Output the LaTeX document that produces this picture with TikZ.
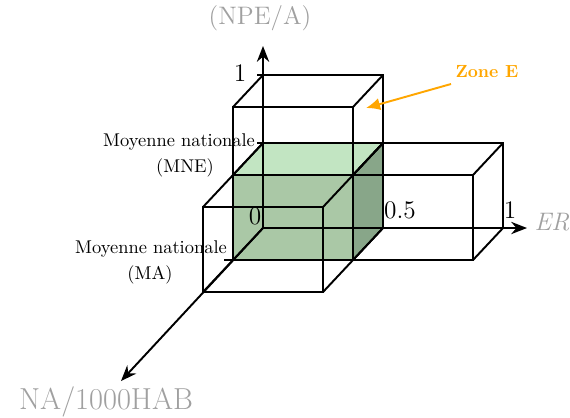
\documentclass[tikz,border=0pt]{standalone}
\usepackage{tikz}
\usetikzlibrary{positioning}
\usetikzlibrary{arrows.meta}

\definecolor{vertclair}{RGB}{194,229,194}
\definecolor{vertmoyen}{RGB}{170,200,166}
\definecolor{vertfonce}{RGB}{136,166,137}
\definecolor{orangezone}{RGB}{255,166,0}
\definecolor{grisaxe}{RGB}{160,160,160}

\begin{document}
\begin{tikzpicture}[x=0.02cm, y=-0.02cm,
    arete/.style={line width=1.1pt},
    axe/.style={line width=1.1pt, -{Stealth[length=9pt, width=7pt]}},
    nomaxe/.style={text=grisaxe, font=\Large},
    graduation/.style={font=\Large, inner sep=1pt},
    moyenne/.style={align=center, font=\fontsize{10.5}{12}\selectfont, inner sep=1pt}]
    \useasboundingbox (0,0) rectangle (570,417);

    % cube vert (zone E)
    \fill[vertclair] (263,143) -- (383,143) -- (353,175) -- (233,175) -- cycle;
    \fill[vertmoyen] (233,175) rectangle (353,260);
    \fill[vertfonce] (383,143) -- (383,228) -- (353,260) -- (353,175) -- cycle;

    % les quatre paves
    \foreach \x/\t/\b in {263/75/143, 263/143/228, 383/143/228, 233/175/260} {
        \draw[arete] (\x,\t) rectangle ++(120,\b-\t);
        \draw[arete] (\x-30,\t+32) rectangle (\x+90,\b+32);
        \draw[arete] (\x,\t) -- ++(-30,32);
        \draw[arete] (\x+120,\t) -- ++(-30,32);
        \draw[arete] (\x,\b) -- ++(-30,32);
        \draw[arete] (\x+120,\b) -- ++(-30,32);
    }

    % axes
    \coordinate (O) at (263,228);
    \coordinate (Y) at (263,46);
    \coordinate (X) at (527,228);
    \coordinate (Z) at (121,381);
    \draw[axe] (O) -- (Y);
    \draw[axe] (O) -- (X);
    \draw[axe] (O) -- (Z);

    \node[nomaxe] (npe) at (260,18) {(NPE/A)};
    \node[nomaxe, font=\Large\itshape] (er) at (552,222) {ER};
    \node[nomaxe, font=\LARGE, anchor=west] (na) at (13,402) {NA/1000HAB};

    % graduations
    \node[graduation] (zero) at (255,216) {0};
    \node[graduation] (demi) at (400,210) {0.5};
    \node[graduation] (unx) at (510,210) {1};
    \node[graduation] (uny) at (240,73) {1};
    \draw[line width=0.6pt] (257,75) -- (263,75);

    % moyennes nationales
    \draw[line width=0.6pt] (257,143) -- (263,143);
    \node[moyenne, anchor=east] (mne) at (257,142) {Moyenne nationale};
    \node[moyenne] (mne2) at (185,168) {(MNE)};
    \draw[line width=0.6pt] (224,260) -- (233,260);
    \node[moyenne, anchor=east] (ma) at (229,249) {Moyenne nationale};
    \node[moyenne] (ma2) at (150,275) {(MA)};

    % zone E
    \node[text=orangezone, font=\bfseries] (zone) at (487,72) {Zone E};
    \coordinate (zonecible) at (366,108);
    \draw[orangezone, line width=1.1pt, -{Latex[length=8pt, width=7pt]}] (451,84) -- (zonecible);
\end{tikzpicture}
\end{document}
